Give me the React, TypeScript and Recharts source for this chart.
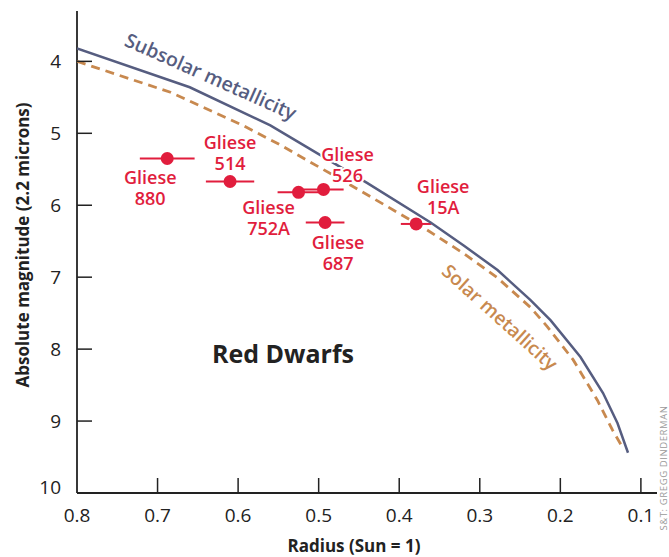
import { ScatterChart, Scatter, XAxis, YAxis, ErrorBar } from "recharts";

const FONT = "'Open Sans', 'Noto Sans', sans-serif";
const RED = "#e11d3d";
const SLATE = "#565d80";
const TAN = "#c8894f";
const INK = "#222";

// model curves (radius in Sun units, absolute magnitude at 2.2 microns)
const subsolarRadius = [0.8, 0.66, 0.56, 0.5, 0.44, 0.361, 0.32, 0.278, 0.237, 0.212, 0.175, 0.147, 0.129, 0.116];
const subsolarMag = [3.82, 4.36, 4.89, 5.29, 5.69, 6.24, 6.56, 6.9, 7.32, 7.6, 8.11, 8.61, 9.03, 9.44];

const solarRadius = [0.8, 0.684, 0.594, 0.548, 0.465, 0.37, 0.32, 0.278, 0.237, 0.216, 0.184, 0.154, 0.135, 0.122];
const solarMag = [4.0, 4.43, 4.89, 5.16, 5.69, 6.31, 6.67, 7.01, 7.42, 7.69, 8.15, 8.71, 9.13, 9.38];

// measured stars
const starNames = ["880", "514", "752A", "526", "687", "15A"];
const starRadius = [0.688, 0.61, 0.525, 0.494, 0.492, 0.379];
const starMag = [5.35, 5.67, 5.82, 5.78, 6.24, 6.26];
const starErr = [0.034, 0.03, 0.026, 0.025, 0.024, 0.019];

const xTicks = [0.8, 0.7, 0.6, 0.5, 0.4, 0.3, 0.2, 0.1];
const yTicks = [4, 5, 6, 7, 8, 9, 10];

// label placement relative to each dot, in px
const labelDx = [-17, 0, -30, 24, 13, 27];
const labelDy = [20, -38, 16, -34, 20, -37];

const subsolar = subsolarRadius.map((x, i) => ({ x, y: subsolarMag[i] }));
const solar = solarRadius.map((x, i) => ({ x, y: solarMag[i] }));
const stars = starNames.map((name, i) => ({
  name,
  x: starRadius[i],
  y: starMag[i],
  err: starErr[i],
  dx: labelDx[i],
  dy: labelDy[i],
}));

const NoShape = () => <g />;

const StarDot = (props: any) => <circle cx={props.cx} cy={props.cy} r={6.5} fill={RED} />;

const StarLabel = (props: any) => {
  const { cx, cy, payload } = props;
  const x = cx + payload.dx;
  const y = cy + payload.dy;
  return (
    <text
      x={x}
      y={y + 6}
      textAnchor="middle"
      fill={RED}
      fontSize={18}
      fontWeight={600}
      fontFamily={FONT}
      stroke="#fff"
      strokeWidth={4}
      paintOrder="stroke"
    >
      <tspan x={x}>Gliese</tspan>
      <tspan x={x} dy={21}>{payload.name}</tspan>
    </text>
  );
};

const XTick = (props: any) => {
  const { x, y, payload } = props;
  return (
    <g>
      {payload.value !== 0.8 && <line x1={x} x2={x} y1={y} y2={y - 15} stroke={INK} strokeWidth={1.5} />}
      <text x={x} y={y + 22} textAnchor="middle" dominantBaseline="central" fontSize={19} fontFamily={FONT} fill={INK}>
        {payload.value.toFixed(1)}
      </text>
    </g>
  );
};

const YTick = (props: any) => {
  const { x, y, payload } = props;
  const v = payload.value;
  return (
    <g>
      {v !== 10 && <line x1={x} x2={x + 15} y1={y} y2={y} stroke={INK} strokeWidth={1.5} />}
      <text x={x - 16} y={v === 10 ? y - 6 : y} textAnchor="end" dominantBaseline="central" fontSize={19} fontFamily={FONT} fill={INK}>
        {v}
      </text>
    </g>
  );
};

export default function App() {
  return (
    <div style={{ position: "absolute", left: 0, top: 0, width: 669, height: 557, background: "#fff" }}>
      <ScatterChart width={669} height={557} margin={{ top: 11, right: 12, left: 0, bottom: 0 }}>
        <XAxis
          type="number"
          dataKey="x"
          domain={[0.08, 0.8]}
          reversed
          ticks={xTicks}
          interval={0}
          height={64}
          tickSize={0}
          tickMargin={0}
          tickLine={false}
          axisLine={{ stroke: INK, strokeWidth: 1.8 }}
          tick={<XTick />}
          allowDataOverflow
        />
        <YAxis
          type="number"
          dataKey="y"
          domain={[3.3, 10]}
          reversed
          ticks={yTicks}
          interval={0}
          width={77}
          tickSize={0}
          tickMargin={0}
          tickLine={false}
          axisLine={{ stroke: INK, strokeWidth: 1.8 }}
          tick={<YTick />}
          allowDataOverflow
        />
        <Scatter
          data={solar}
          shape={NoShape}
          line={{ stroke: TAN, strokeWidth: 2.8, strokeDasharray: "9 6" }}
          isAnimationActive={false}
        />
        <Scatter
          data={subsolar}
          shape={NoShape}
          line={{ stroke: SLATE, strokeWidth: 2.5 }}
          isAnimationActive={false}
        />
        <Scatter data={stars} shape={StarLabel} isAnimationActive={false} />
        <Scatter data={stars} shape={StarDot} isAnimationActive={false}>
          <ErrorBar dataKey="err" direction="x" width={0} stroke={RED} strokeWidth={2} />
        </Scatter>
      </ScatterChart>
      <svg width={669} height={557} style={{ position: "absolute", left: 0, top: 0, pointerEvents: "none" }}>
        <text
          transform="translate(22,245) rotate(-90)"
          textAnchor="middle"
          dominantBaseline="central"
          fontSize={17}
          fontWeight={700}
          fontFamily={FONT}
          fill={INK}
        >
          Absolute magnitude (2.2 microns)
        </text>
        <text x={354} y={545} textAnchor="middle" dominantBaseline="central" fontSize={17} fontWeight={700} fontFamily={FONT} fill={INK}>
          Radius (Sun = 1)
        </text>
        <text x={283} y={353} textAnchor="middle" dominantBaseline="central" fontSize={25} fontWeight={700} fontFamily={FONT} fill={INK}>
          Red Dwarfs
        </text>
        <text
          transform="translate(211,76) rotate(24)"
          textAnchor="middle"
          dominantBaseline="central"
          fontSize={19.5}
          fontWeight={600}
          fontFamily={FONT}
          fill={SLATE}
        >
          Subsolar metallicity
        </text>
        <text
          transform="translate(500,317) rotate(42)"
          textAnchor="middle"
          dominantBaseline="central"
          fontSize={19}
          fontWeight={600}
          fontFamily={FONT}
          fill={TAN}
        >
          Solar metallicity
        </text>
        <text
          transform="translate(663,468) rotate(-90)"
          textAnchor="middle"
          dominantBaseline="central"
          fontSize={9.5}
          fontFamily={FONT}
          letterSpacing={0.6}
          fill="#9a9a9a"
        >
          S&amp;T: GREGG DINDERMAN
        </text>
      </svg>
    </div>
  );
}
